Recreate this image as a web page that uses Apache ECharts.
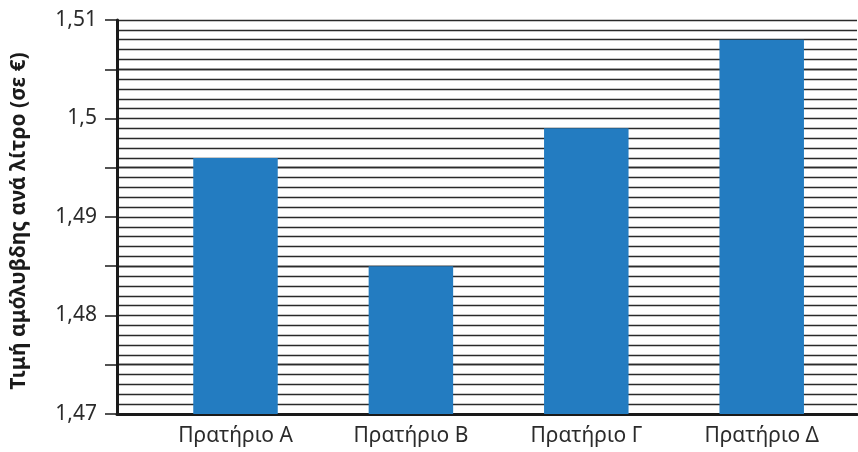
<!DOCTYPE html>
<html>
<head>
<meta charset="utf-8">
<script src="https://cdn.jsdelivr.net/npm/echarts@6/dist/echarts.min.js"></script>
<style>html,body{margin:0;padding:0;background:#fff}#c{width:858px;height:452px}</style>
</head>
<body>
<div id="c"></div>
<script>
const categories = ['Πρατήριο Α', 'Πρατήριο Β', 'Πρατήριο Γ', 'Πρατήριο Δ'];
const prices = [1.496, 1.485, 1.499, 1.508];
const yLabelValues = [1.47, 1.48, 1.49, 1.5, 1.51];
const yTickValues = [1.47, 1.475, 1.48, 1.485, 1.49, 1.495, 1.5, 1.505, 1.51];
const yName = 'Τιμή αμόλυβδης ανά λίτρο (σε €)';

const positions = categories.map((c, i) => i + 1);
const FONT = 'Noto Sans';
const chart = echarts.init(document.getElementById('c'));
chart.setOption({
  animation: false,
  backgroundColor: '#fff',
  grid: { left: 117, right: 1, top: 20, bottom: 38 },
  xAxis: {
    type: 'value',
    min: 0.3244,
    max: 4.5433,
    axisLine: { show: true, onZero: false, lineStyle: { color: '#1a1a1a', width: 3 } },
    axisTick: { show: false },
    splitLine: { show: false },
    axisLabel: {
      customValues: positions,
      formatter: v => categories[Math.round(v) - 1] || '',
      margin: 12,
      fontFamily: FONT,
      fontSize: 21,
      color: '#2b2b2b'
    }
  },
  yAxis: {
    type: 'value',
    min: 1.47,
    max: 1.51,
    interval: 0.01,
    name: yName,
    nameLocation: 'middle',
    nameGap: 87,
    nameTextStyle: { fontFamily: FONT, fontSize: 21, fontWeight: 'bold', color: '#1a1a1a', padding: [0, 8, 0, 0] },
    axisLine: { show: true, lineStyle: { color: '#1a1a1a', width: 3 } },
    axisTick: { show: true, length: 12, customValues: yTickValues, lineStyle: { color: '#1a1a1a', width: 1.5 } },
    axisLabel: {
      customValues: yLabelValues,
      formatter: v => String(+(+v).toFixed(3)).replace('.', ','),
      margin: 20,
      fontFamily: FONT,
      fontSize: 21,
      color: '#2b2b2b'
    },
    splitLine: { show: true, lineStyle: { color: '#2a2a2a', width: 1.4 } },
    minorTick: { show: false, splitNumber: 10 },
    minorSplitLine: { show: true, lineStyle: { color: '#2a2a2a', width: 1.4 } }
  },
  series: [{
    type: 'bar',
    barWidth: 84.5,
    itemStyle: { color: '#237cc1' },
    data: positions.map((p, i) => [p, prices[i]]),
    z: 5
  }]
});
</script>
</body>
</html>
